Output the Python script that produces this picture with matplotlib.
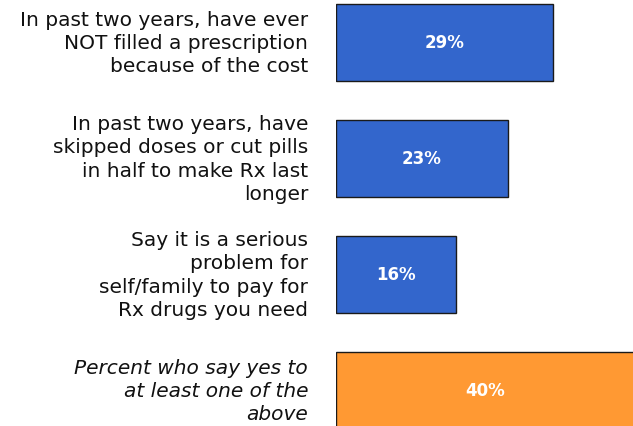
import matplotlib
matplotlib.use("Agg")
import matplotlib.pyplot as plt

categories = [
    "In past two years, have ever\nNOT filled a prescription\nbecause of the cost",
    "In past two years, have\nskipped doses or cut pills\nin half to make Rx last\nlonger",
    "Say it is a serious\nproblem for\nself/family to pay for\nRx drugs you need",
    "Percent who say yes to\nat least one of the\nabove",
]
values = [29, 23, 16, 40]
value_labels = ["29%", "23%", "16%", "40%"]
colors = ["#3366CC", "#3366CC", "#3366CC", "#FF9933"]
italic = [False, False, False, True]

W, H = 633, 427
fig = plt.figure(figsize=(W / 100, H / 100), dpi=100)
left_px = 336
ax = fig.add_axes([left_px / W, 0, 1 - left_px / W, 1])
ppu = 7.48
ax.set_xlim(0, (W - left_px) / ppu)
pitch = 116
ax.set_ylim(3 + (H - 391.5) / pitch, -43.5 / pitch)
ax.axis("off")

ypos = list(range(len(values)))
ax.barh(ypos, values, height=77 / pitch, color=colors, edgecolor="#1a1a1a",
        linewidth=1.0, clip_on=True)

for y, v, lab in zip(ypos, values, value_labels):
    ax.text(v / 2, y, lab, color="white", fontsize=12, fontweight="bold",
            ha="center", va="center")

for y, cat, it in zip(ypos, categories, italic):
    ax.text(-(left_px - 308) / ppu, y, cat, ha="right", va="center",
            fontsize=14.5, linespacing=1.28, color="#111111",
            style="italic" if it else "normal", clip_on=False)

fig.savefig("out.png", dpi=100)
